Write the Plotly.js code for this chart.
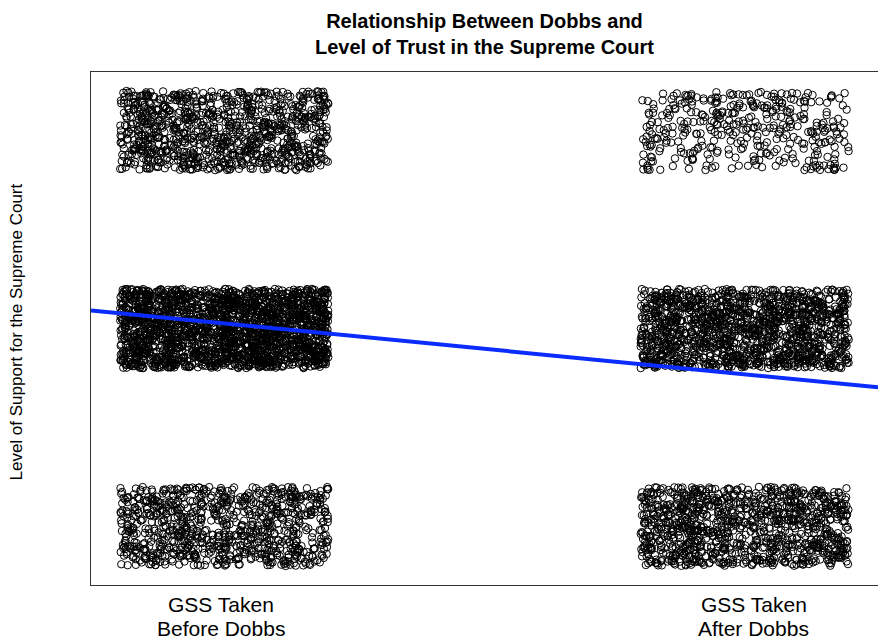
<!DOCTYPE html>
<html>
<head>
<meta charset="utf-8">
<script src="https://cdn.plot.ly/plotly-3.0.1.min.js"></script>
<style>
  html, body { margin: 0; padding: 0; background: #ffffff; overflow: hidden; }
  #chart { width: 878px; height: 640px; }
</style>
</head>
<body>
<div id="chart"></div>
<script>
// ---- Data ----
// Groups on the x axis (0 = before Dobbs, 1 = after Dobbs)
const groupCodes = [0, 1];
const groupLabels = ['GSS Taken<br>Before Dobbs', 'GSS Taken<br>After Dobbs'];
// Trust levels on the y axis (1 = hardly any, 2 = only some, 3 = a great deal)
const trustLevels = [1, 2, 3];
// Estimated number of respondents in each cell, per trust level
const countsBefore = [850, 2100, 950];
const countsAfter  = [1030, 1400, 380];

const titleText = 'Relationship Between Dobbs and<br>Level of Trust in the Supreme Court';
const yTitleText = 'Level of Support for the Supreme Court';

// ---- Display jitter (like R's jitter(), amount 0.2), seeded so it is repeatable ----
function mulberry32(a) {
  return function () {
    a |= 0; a = a + 0x6D2B79F5 | 0;
    let t = Math.imul(a ^ a >>> 15, 1 | a);
    t = t + Math.imul(t ^ t >>> 7, 61 | t) ^ t;
    return ((t ^ t >>> 14) >>> 0) / 4294967296;
  };
}
const rand = mulberry32(20220624);
const jitterAmount = 0.2;

const xs = [], ys = [];
const allCounts = [countsBefore, countsAfter];
groupCodes.forEach((g, gi) => {
  trustLevels.forEach((lvl, li) => {
    const n = allCounts[gi][li];
    for (let k = 0; k < n; k++) {
      xs.push(g + (rand() * 2 - 1) * jitterAmount);
      ys.push(lvl + (rand() * 2 - 1) * jitterAmount);
    }
  });
});

// ---- OLS fit of trust on group (binary x -> group means) ----
function groupMean(counts) {
  let s = 0, n = 0;
  counts.forEach((c, i) => { s += c * trustLevels[i]; n += c; });
  return s / n;
}
const intercept = groupMean(countsBefore);
const slope = groupMean(countsAfter) - intercept;

const xRange = [-0.256, 1.256];
const yRange = [0.704, 3.296];
const lineX = xRange.slice();
const lineY = lineX.map(x => intercept + slope * x);

const font = 'Liberation Sans, Arial, Helvetica, sans-serif';

const traces = [
  {
    type: 'scatter', mode: 'markers', x: xs, y: ys,
    marker: { symbol: 'circle-open', size: 7.4, color: '#000000', line: { width: 1, color: '#000000' } },
    hoverinfo: 'skip', showlegend: false, cliponaxis: false
  },
  {
    type: 'scatter', mode: 'lines', x: lineX, y: lineY,
    line: { color: '#0a2cff', width: 4 },
    hoverinfo: 'skip', showlegend: false
  }
];

// x group labels: each line placed separately to match the tighter line spacing
const annotations = [];
groupCodes.forEach((g, i) => {
  groupLabels[i].split('<br>').forEach((line, j) => {
    annotations.push({
      x: g, xref: 'x', y: 0, yref: 'paper', yanchor: 'top', xanchor: 'center',
      xshift: i === 0 ? -3 : 9, yshift: -6 - j * 24,
      text: line, showarrow: false,
      font: { family: font, size: 21, color: '#000000' }
    });
  });
});
annotations.push({
  x: 0, xref: 'paper', y: 0.5, yref: 'paper', xanchor: 'center', yanchor: 'middle',
  xshift: -75, yshift: -4, textangle: -90,
  text: yTitleText, showarrow: false,
  font: { family: font, size: 17, color: '#000000' }
});

const layout = {
  width: 878, height: 640,
  margin: { l: 91, r: 0, t: 72, b: 55, pad: 0 },
  paper_bgcolor: '#ffffff', plot_bgcolor: '#ffffff',
  title: {
    text: titleText, x: 0.5, xref: 'paper', xanchor: 'center',
    y: 1 - 28 / 640, yref: 'container', yanchor: 'top',
    font: { family: font, size: 20, color: '#000000', weight: 'bold' }
  },
  xaxis: {
    range: xRange, showgrid: false, zeroline: false, showticklabels: false, ticks: '',
    showline: true, mirror: true, linecolor: '#333333', linewidth: 1, fixedrange: true
  },
  yaxis: {
    range: yRange, showgrid: false, zeroline: false, showticklabels: false, ticks: '',
    showline: true, mirror: false, linecolor: '#333333', linewidth: 1, fixedrange: true
  },
  annotations: annotations,
  showlegend: false
};

Plotly.newPlot('chart', traces, layout, { staticPlot: true, displayModeBar: false });
</script>
</body>
</html>
